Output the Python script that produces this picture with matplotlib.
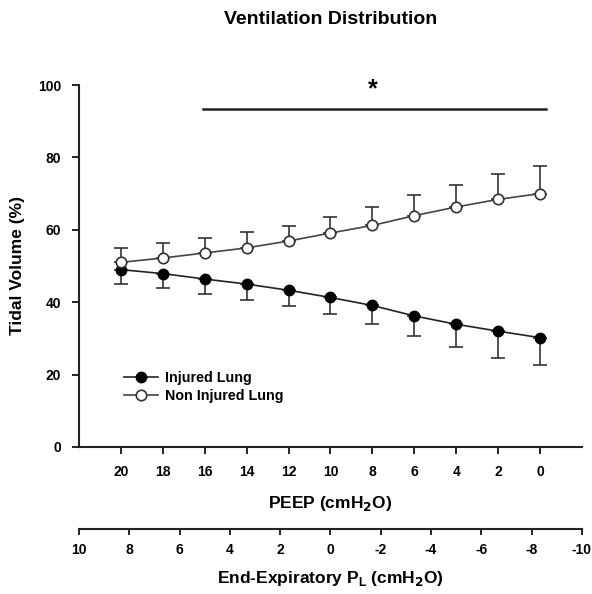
import numpy as np
import matplotlib.pyplot as plt

plt.rcParams['font.family'] = ['Liberation Sans', 'DejaVu Sans']
plt.rcParams['font.weight'] = 'bold'
plt.rcParams['axes.unicode_minus'] = False

# PEEP steps (cmH2O), decremental
peep = [20, 18, 16, 14, 12, 10, 8, 6, 4, 2, 0]

# tidal volume share (%) and SD
injured = [49.0, 47.9, 46.4, 45.0, 43.3, 41.3, 39.1, 36.2, 33.9, 32.0, 30.2]
injured_sd = [4.0, 4.1, 4.0, 4.3, 4.3, 4.6, 5.0, 5.6, 6.3, 7.3, 7.6]
non_injured = [51.0, 52.2, 53.6, 55.0, 56.9, 59.1, 61.2, 63.9, 66.3, 68.4, 70.0]
non_injured_sd = [4.1, 4.2, 4.2, 4.4, 4.2, 4.5, 5.1, 5.8, 6.2, 7.0, 7.6]

pl_ticks = [10, 8, 6, 4, 2, 0, -2, -4, -6, -8, -10]

fig = plt.figure(figsize=(5.92, 5.94), dpi=100)
ax = fig.add_axes([0.1334, 0.2475, 0.8496, 0.6094])

# error bars: one-sided (down for injured, up for non injured)
ax.errorbar(peep, injured, yerr=[injured_sd, [0] * len(peep)], fmt='none',
            ecolor='#333333', elinewidth=1.2, capsize=5, capthick=1.2, zorder=1)
ax.errorbar(peep, non_injured, yerr=[[0] * len(peep), non_injured_sd], fmt='none',
            ecolor='#333333', elinewidth=1.2, capsize=5, capthick=1.2, zorder=1)

ax.plot(peep, injured, '-o', color='#222222', lw=1.2, ms=7.5,
        mfc='black', mec='black', label='Injured Lung', zorder=3)
ax.plot(peep, non_injured, '-o', color='#444444', lw=1.2, ms=7.5,
        mfc='white', mec='#333333', mew=1.2, label='Non Injured Lung', zorder=3)

# significance bar
ax.plot([16.1, -0.3], [93.5, 93.5], color='#222222', lw=1.8, clip_on=False)
ax.text(8, 95.5, '*', ha='center', va='bottom', fontsize=18, fontweight='bold')

ax.set_xlim(22, -2)
ax.set_ylim(0, 100)
ax.set_xticks(peep)
ax.set_yticks([0, 20, 40, 60, 80, 100])
ax.tick_params(axis='both', direction='out', length=5, width=1.2, labelsize=10, pad=8)
for s in ['top', 'right']:
    ax.spines[s].set_visible(False)
for s in ['left', 'bottom']:
    ax.spines[s].set_linewidth(1.5)
    ax.spines[s].set_color('#222222')

ax.set_ylabel('Tidal Volume (%)', fontsize=12.5, fontweight='bold', labelpad=9)
ax.set_xlabel('PEEP (cmH$_2$O)', fontsize=12.5, fontweight='bold', labelpad=11)
ax.set_title('Ventilation Distribution', fontsize=14, fontweight='bold', pad=44)

ax.legend(loc='lower left', bbox_to_anchor=(0.078, 0.107), frameon=False, fontsize=10.3,
          handlelength=2.4, handletextpad=0.45, labelspacing=0.25, borderaxespad=0)

# second scale: end-expiratory transpulmonary pressure
ax2 = ax.twiny()
ax2.set_xlim(10, -10)
ax2.set_xticks(pl_ticks)
ax2.xaxis.set_ticks_position('bottom')
ax2.xaxis.set_label_position('bottom')
ax2.spines['bottom'].set_position(('outward', 59))
ax2.spines['bottom'].set_linewidth(1.5)
ax2.spines['bottom'].set_color('#222222')
for s in ['top', 'right', 'left']:
    ax2.spines[s].set_visible(False)
ax2.tick_params(axis='x', direction='out', length=4, width=1.2, labelsize=10, pad=6)
ax2.set_xlabel('End-Expiratory P$_\\mathregular{L}$ (cmH$_2$O)', fontsize=12.5,
               fontweight='bold', labelpad=9)

fig.savefig('out.png', dpi=100)
